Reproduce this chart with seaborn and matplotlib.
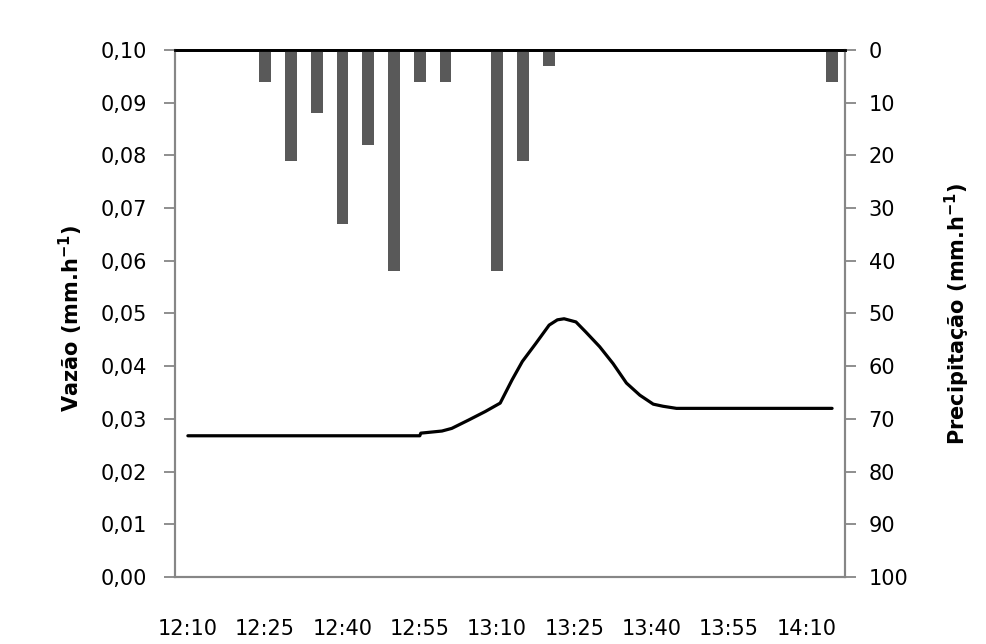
import matplotlib
matplotlib.use("Agg")
import matplotlib.pyplot as plt
import matplotlib.ticker as mticker
import numpy as np
import pandas as pd
import seaborn as sns

# categories: 5-minute steps from 12:10 to 14:15
times = ["12:10", "12:15", "12:20", "12:25", "12:30", "12:35", "12:40", "12:45", "12:50",
         "12:55", "13:00", "13:05", "13:10", "13:15", "13:20", "13:25", "13:30", "13:35",
         "13:40", "13:45", "13:50", "13:55", "14:00", "14:05", "14:10", "14:15"]
# rainfall intensity (mm/h) per interval
precip = [0, 0, 0, 6, 21, 12, 33, 18, 42, 6, 6, 0, 42, 21, 3,
          0, 0, 0, 0, 0, 0, 0, 0, 0, 0, 6]

# discharge hydrograph: minutes after 12:10 and flow
flow_min = [0, 45, 45.2, 49.3, 51.2, 54.5, 57.7, 60.6, 62.9, 64.9, 67.5, 70.1, 71.7,
            73.0, 75.3, 77.2, 79.9, 82.5, 85.1, 87.7, 90.3, 92.2, 94.8, 125]
flow_val = [0.0268, 0.0268, 0.0273, 0.0277, 0.0282, 0.0298, 0.0314, 0.0330, 0.0374,
            0.0409, 0.0443, 0.0478, 0.0488, 0.0490, 0.0484, 0.0465, 0.0437, 0.0405,
            0.0368, 0.0345, 0.0328, 0.0324, 0.0320, 0.0320]

sns.set_style("white")
plt.rcParams["font.family"] = ["DejaVu Sans"]
plt.rcParams["text.color"] = "black"
plt.rcParams["axes.labelcolor"] = "black"
plt.rcParams["xtick.labelcolor"] = "black"
plt.rcParams["ytick.labelcolor"] = "black"

fig = plt.figure(figsize=(9.87, 6.44), dpi=100)
ax = fig.add_axes([0.1773, 0.104, 0.6788, 0.8184])
ax2 = ax.twinx()

grey = "#868686"

# precipitation bars hanging from the top
rain = pd.DataFrame({"time": times, "precip": precip})
sns.barplot(data=rain, x="time", y="precip", order=times, color="#595959",
            width=0.46, linewidth=0, saturation=1, ax=ax2)
ax2.set_ylim(100, 0)
ax2.set_yticks(np.arange(0, 101, 10))
ax2.set_ylabel("Precipitação (mm.h$^{\\mathbf{-1}}$)", fontsize=15, fontweight="bold")
ax2.yaxis.set_label_coords(1.146, 0.5)

# discharge line, x converted to category units (5 min each)
flow = pd.DataFrame({"pos": np.array(flow_min) / 5.0, "flow": flow_val})
sns.lineplot(data=flow, x="pos", y="flow", color="black", linewidth=2.3,
             sort=False, estimator=None, ax=ax)
ax.set_ylim(0, 0.10)
ax.set_yticks(np.arange(0, 0.101, 0.01))
ax.yaxis.set_major_formatter(mticker.FuncFormatter(lambda v, p: f"{v:.2f}".replace(".", ",")))
ax.set_ylabel("Vazão (mm.h$^{\\mathbf{-1}}$)", fontsize=15, fontweight="bold")
ax.yaxis.set_label_coords(-0.135, 0.49)

for a in (ax, ax2):
    a.set_xlim(-0.5, 25.5)
    a.set_xlabel("")
ax.set_xticks(range(0, 26, 3))
ax.set_xticklabels(times[::3])
ax.set_xticks(np.arange(-0.5, 26, 1), minor=True)
ax.tick_params(axis="x", which="major", length=0, pad=30, labelsize=15)
ax.tick_params(axis="x", which="minor", length=8, width=1.3, color=grey, direction="out")
ax.tick_params(axis="y", length=8, width=1.3, color=grey, pad=12, labelsize=15, left=True)
ax2.tick_params(axis="y", length=8, width=1.3, color=grey, pad=9, labelsize=15, right=True)
ax2.tick_params(axis="x", length=0, labelbottom=False)

for a in (ax, ax2):
    for s in ("left", "right", "bottom"):
        a.spines[s].set_color(grey)
        a.spines[s].set_linewidth(1.5)
    a.spines["top"].set_color("black")
    a.spines["top"].set_linewidth(2)

fig.savefig("out.png", dpi=100, facecolor="white")
